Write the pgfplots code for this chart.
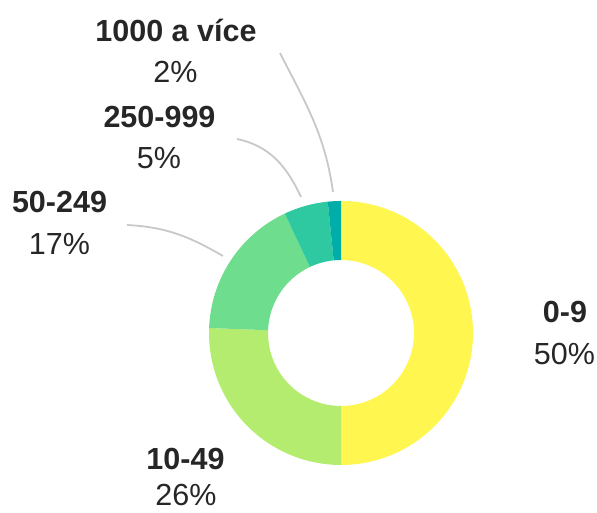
\documentclass[border=0pt]{standalone}
\usepackage{fontspec}
\setmainfont{Liberation Sans}
\usepackage{pgfplots}
\pgfplotsset{compat=1.18}
\definecolor{c09}{HTML}{FFF64F}
\definecolor{c1049}{HTML}{B3EC6F}
\definecolor{c50}{HTML}{6EDD8D}
\definecolor{c250}{HTML}{2EC9A0}
\definecolor{c1000}{HTML}{00ADA8}
\definecolor{txt}{HTML}{262626}
\definecolor{leader}{HTML}{C8C8C8}
\begin{document}
\begin{tikzpicture}
\begin{axis}[
  width=597pt, height=513pt, scale only axis,
  xmin=0, xmax=597, ymin=0, ymax=513,
  hide axis, clip=false
]
% shares in percent, clockwise from 12 o'clock
\xdef\cum{0}
\foreach \v/\c in {50.0/c09,25.6/c1049,17.4/c50,5.4/c250,1.6/c1000}{
  \pgfmathsetmacro\aS{90-3.6*\cum}
  \pgfmathsetmacro\aE{90-3.6*(\cum+\v)}
  \edef\temp{\noexpand\fill[\c] ([shift={(\aS:132pt)}]axis cs:341,180)
    arc[start angle=\aS,end angle=\aE,radius=132pt]
    -- ([shift={(\aE:73pt)}]axis cs:341,180)
    arc[start angle=\aE,end angle=\aS,radius=73pt] -- cycle;}
  \temp
  \pgfmathsetmacro\nc{\cum+\v}\xdef\cum{\nc}
}
% leader lines
\draw[leader,line width=1.8pt] (axis cs:280,460) to[out=-63,in=98] (axis cs:333,321);
\draw[leader,line width=1.8pt] (axis cs:237,374) to[out=-12,in=115] (axis cs:301,316);
\draw[leader,line width=1.8pt] (axis cs:127,288) to[out=-3,in=150] (axis cs:223,257);
% labels
\tikzset{lb/.style={anchor=base,text=txt,font=\fontsize{30.5}{36}\selectfont\bfseries,inner sep=0pt},
         lp/.style={anchor=base,text=txt,font=\fontsize{30.5}{36}\selectfont,inner sep=0pt}}
\node[lb] at (axis cs:176,471) {1000 a více};
\node[lp] at (axis cs:175.5,430) {2\%};
\node[lb] at (axis cs:159.5,385) {250-999};
\node[lp] at (axis cs:159,344) {5\%};
\node[lb] at (axis cs:59.5,300) {50-249};
\node[lp] at (axis cs:59.5,258) {17\%};
\node[lb] at (axis cs:565,190) {0-9};
\node[lp] at (axis cs:564.5,148) {50\%};
\node[lb] at (axis cs:185.5,43) {10-49};
\node[lp] at (axis cs:186,7) {26\%};
\end{axis}
\pgfresetboundingbox
\path (0,0) rectangle (597pt,513pt);
\end{tikzpicture}
\end{document}
